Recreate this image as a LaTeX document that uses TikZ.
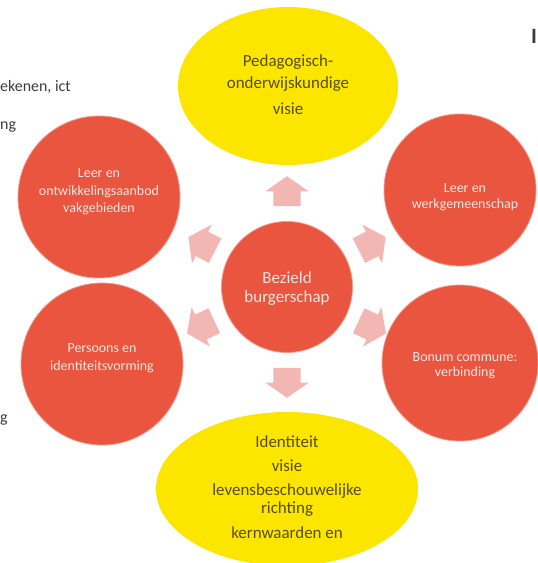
\documentclass[tikz,border=0pt]{standalone}
\usepackage{fontspec}
\setmainfont{Carlito}
\usetikzlibrary{shapes.arrows,shapes.geometric}
\definecolor{cred}{HTML}{E9553F}
\definecolor{cpink}{HTML}{F3B7B3}
\definecolor{cyel}{HTML}{FCE600}
\definecolor{ctxtY}{HTML}{574C00}
\definecolor{ctxtR}{HTML}{FCE6E0}
\definecolor{cgray}{HTML}{3C3C3C}
\tikzset{
  redcirc/.style={circle, fill=cred, draw=cred!60!white, line width=0.8bp, inner sep=0pt},
  rtext/.style={text=ctxtR, align=center, font=\fontsize{14}{17}\selectfont},
  ytext/.style={text=ctxtY, align=center, font=\fontsize{17}{21}\selectfont},
  blockarrow/.style={single arrow, fill=cpink, inner sep=0pt, minimum height=30bp,
     minimum width=0pt, inner ysep=13.5bp, inner xsep=0pt,
     single arrow tip angle=110, single arrow head extend=8bp},
  fragtext/.style={text=cgray, font=\fontsize{16}{19}\selectfont, anchor=base west, inner sep=0pt}
}
\begin{document}
\begin{tikzpicture}[x=1bp,y=-1bp]
\useasboundingbox (0,0) rectangle (538,563);
\fill[white] (0,0) rectangle (538,563);
% yellow ellipses
\node[ellipse, fill=cyel, inner sep=0pt, minimum width=220bp, minimum height=158bp] (top) at (288,86) {};
\node[ellipse, fill=cyel, inner sep=0pt, minimum width=262bp, minimum height=154bp] (bot) at (287,489) {};
% red circles
\node[redcirc, minimum size=131bp] (center) at (287,287) {};
\node[redcirc, minimum size=162bp] (ul) at (99,197) {};
\node[redcirc, minimum size=152bp] (ur) at (460,190) {};
\node[redcirc, minimum size=162bp] (ll) at (102,364) {};
\node[redcirc, minimum size=156bp] (lr) at (460,363) {};
% texts
\node[ytext, anchor=base] (t1) at (288,67) {Pedagogisch-};
\node[ytext, anchor=base] (t2) at (288,89) {onderwijskundige};
\node[ytext, anchor=base] (t3) at (288,115) {visie};
\node[rtext, anchor=base] (u1) at (99,177) {Leer en};
\node[rtext, anchor=base] (u2) at (99,195) {ontwikkelingsaanbod};
\node[rtext, anchor=base] (u3) at (99,212) {vakgebieden};
\node[rtext, anchor=base] (r1) at (465,192) {Leer en};
\node[rtext, anchor=base] (r2) at (465,208) {werkgemeenschap};
\node[rtext, anchor=base, font=\fontsize{17}{20}\selectfont] (c1) at (287,283) {Bezield};
\node[rtext, anchor=base, font=\fontsize{17}{20}\selectfont] (c2) at (287,302) {burgerschap};
\node[rtext, anchor=base] (l1) at (102,352) {Persoons en};
\node[rtext, anchor=base] (l2) at (102,370) {identiteitsvorming};
\node[rtext, anchor=base] (b1) at (465,361) {Bonum commune:};
\node[rtext, anchor=base] (b2) at (465,376) {verbinding};
\node[ytext, anchor=base] (y1) at (287,447) {Identiteit};
\node[ytext, anchor=base] (y2) at (287,471) {visie};
\node[ytext, anchor=base] (y3) at (287,495) {levensbeschouwelijke};
\node[ytext, anchor=base] (y4) at (287,513) {richting};
\node[ytext, anchor=base] (y5) at (287,538) {kernwaarden en};
% arrows
\node[blockarrow, rotate=90] (a1) at (287,196) {};
\node[blockarrow, rotate=153] (a2) at (206,246) {};
\node[blockarrow, rotate=205] (a3) at (205,325) {};
\node[blockarrow, rotate=270] (a4) at (287,378) {};
\node[blockarrow, rotate=335] (a5) at (368,325) {};
\node[blockarrow, rotate=27] (a6) at (368,246) {};
% cut-off fragments
\node[fragtext] (f1) at (0,92) {ekenen, ict};
\node[fragtext] (f2) at (0,130) {ng};
\node[fragtext] (f3) at (0,422) {g};
\node[text=cgray, font=\bfseries\fontsize{22}{24}\selectfont, anchor=base west, inner sep=0pt] (f4) at (531,44) {I};
\end{tikzpicture}
\end{document}
